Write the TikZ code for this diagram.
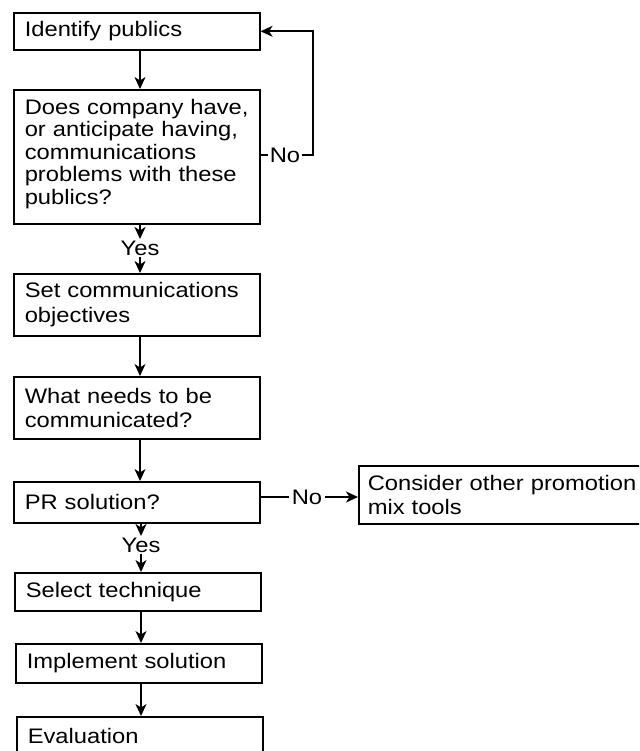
\documentclass[tikz,border=0pt]{standalone}
\usepackage{fontspec}
\setmainfont{Liberation Sans}[FakeStretch=1.13]
\usetikzlibrary{arrows.meta}
\begin{document}
\begin{tikzpicture}[x=1pt,y=-1pt,
  box/.style={draw, line width=1.6pt, anchor=north west, align=left,
    inner xsep=11pt, inner ysep=2pt, text width=224pt,
    font=\fontsize{21}{24.5}\selectfont},
  lbl/.style={inner sep=1.5pt, font=\fontsize{21}{22}\selectfont},
  arr/.style={line width=1.6pt, -{Stealth[length=12pt,width=11pt,inset=3.5pt]}},
  ln/.style={line width=1.6pt}]
\useasboundingbox (0,0) rectangle (639,751);
\clip (0,0) rectangle (639,751);
\fill[white] (0,0) rectangle (639,751);

% boxes
\node[box, minimum height=37pt] (b1) at (13,12) {Identify publics};
\node[box, minimum height=134pt, font=\fontsize{21}{22.5}\selectfont] (b2) at (13,89)
  {Does company have,\\or anticipate having,\\communications\\problems with these\\publics?\vspace{6pt}};
\node[box, minimum height=62pt] (b3) at (13,273) {Set communications\\objectives};
\node[box, minimum height=62pt] (b4) at (13,376) {What needs to be\\communicated?};
\node[box, minimum height=41pt] (b5) at (13,481) {PR solution?};
\node[box, minimum height=58pt, inner xsep=9pt, text width=290pt] (b6) at (358,465)
  {Consider other promotion\\mix tools};
\node[box, minimum height=38pt] (b7) at (14,572) {Select technique};
\node[box, minimum height=39pt] (b8) at (15,643) {Implement solution};
\node[box, minimum height=39pt] (b9) at (16,716) {Evaluation};

% labels
\node[lbl] (y1) at (140,248) {Yes};
\node[lbl] (y2) at (141,545) {Yes};
\node[lbl] (n1) at (285,155) {No};
\node[lbl, inner xsep=3pt] (n2) at (307,497) {No};
\coordinate (sp) at (140,0);
\coordinate (lp) at (313,155);

% connectors
\draw[arr] (b1.south -| sp) -- (b2.north -| sp);
\draw[arr] (b2.south -| sp) -- (y1.north);
\draw[arr] (y1.south) -- (b3.north -| sp);
\draw[arr] (b3.south -| sp) -- (b4.north -| sp);
\draw[arr] (b4.south -| sp) -- (b5.north -| sp);
\draw[arr] (b5.south -| y2) -- (y2.north);
\draw[arr] (y2.south) -- (b7.north -| y2);
\draw[arr] (b7.south -| y2) -- (b8.north -| y2);
\draw[arr] (b8.south -| y2) -- (b9.north -| y2);

\draw[ln] (b2.east |- n1) -- (n1.west);
\draw[arr] (n1.east) -- (lp) |- (b1.east);
\draw[ln] (b5.east |- n2) -- (n2.west);
\draw[arr] (n2.east) -- (b6.west |- n2);
\end{tikzpicture}
\end{document}
